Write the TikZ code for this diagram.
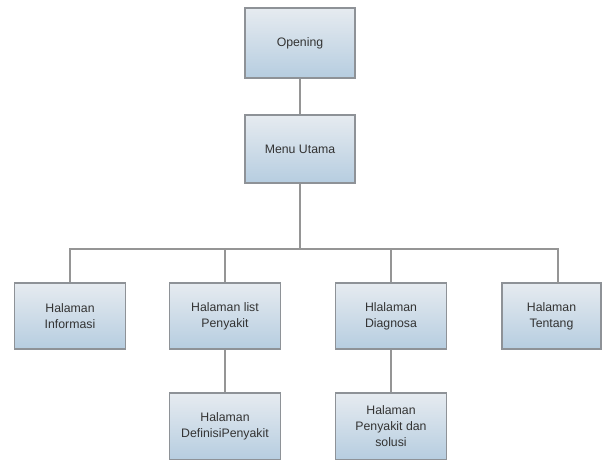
\documentclass[tikz,border=0pt]{standalone}
\usepackage{fontspec}
\setmainfont{Liberation Sans}
\begin{document}
\begin{tikzpicture}[x=1pt,y=-1pt,
  box/.style={draw=boxline, line width=1.1pt, top color=boxtop, bottom color=boxbot,
    minimum width=111pt, minimum height=66pt, inner sep=2pt, align=center,
    text=txt, font=\fontsize{12.3}{16}\selectfont},
  conn/.style={draw=lnc, line width=1.4pt}]
\definecolor{boxline}{HTML}{8E9297}
\definecolor{boxtop}{HTML}{E6EBF0}
\definecolor{boxbot}{HTML}{B6CDE0}
\definecolor{txt}{HTML}{333333}
\definecolor{lnc}{HTML}{959595}
\useasboundingbox[fill=white] (0,0) rectangle (603,459);
\node[box, minimum width=110pt, minimum height=70pt] (open) at (300,43) {Opening};
\node[box, minimum width=110pt, minimum height=68pt] (menu) at (300,149) {Menu Utama};
\node[box] (info) at (70,316) {Halaman\\Informasi};
\node[box] (list) at (225,316) {Halaman list\\Penyakit};
\node[box] (diag) at (391,316) {Hlalaman\\Diagnosa};
\node[box, minimum width=99pt] (tent) at (551.5,316) {Halaman\\Tentang};
\node[box, minimum height=67pt] (def) at (225,426.5) {Halaman\\DefinisiPenyakit};
\node[box, minimum height=67pt] (sol) at (391,426.5) {Halaman\\Penyakit dan\\solusi};
\coordinate (bar) at (300,249);
\coordinate (tentc) at (558,283);
\draw[conn] (open.south) -- (menu.north);
\draw[conn] (menu.south) -- (bar);
\draw[conn] (info.north) |- (bar);
\draw[conn] (list.north) |- (bar);
\draw[conn] (diag.north) |- (bar);
\draw[conn] (tentc) |- (bar);
\draw[conn] (list.south) -- (def.north);
\draw[conn] (diag.south) -- (sol.north);
\end{tikzpicture}
\end{document}
